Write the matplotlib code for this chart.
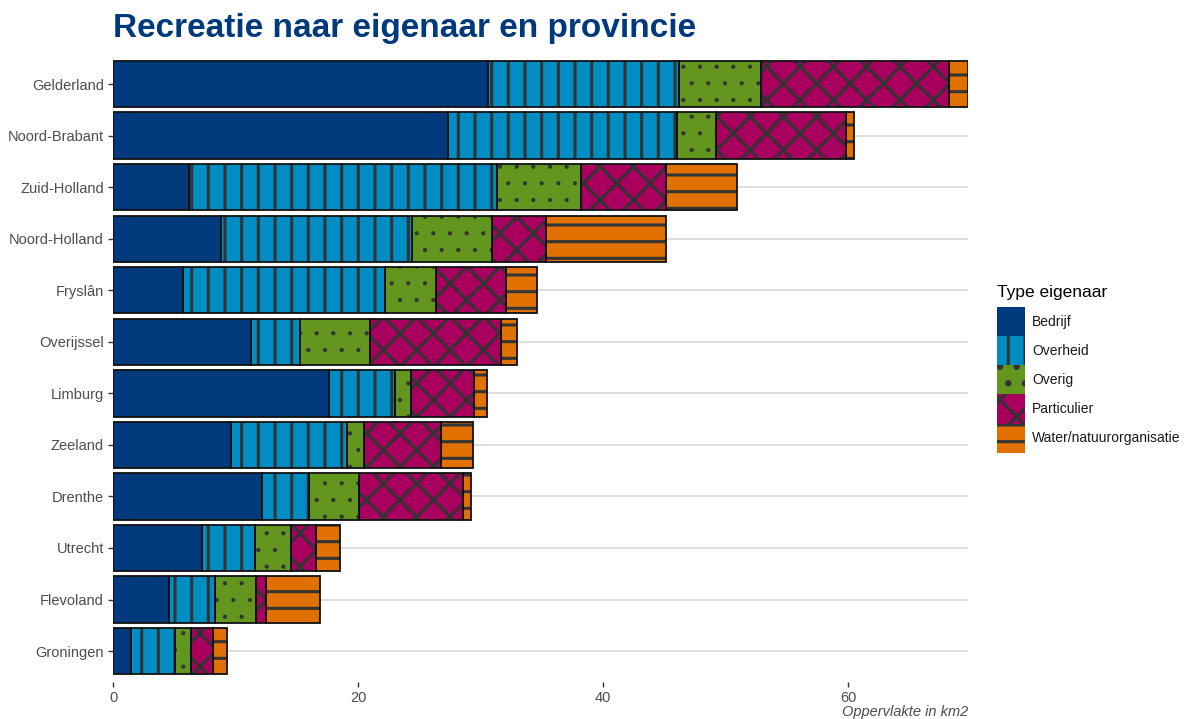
import matplotlib
matplotlib.use("Agg")
import matplotlib.pyplot as plt
import numpy as np
from matplotlib.patches import Patch

plt.rcParams.update(
    {
        "font.family": ["Liberation Sans", "DejaVu Sans"],
        "hatch.linewidth": 2.2,
        "figure.dpi": 100,
    }
)

provinces = [
    "Gelderland", "Noord-Brabant", "Zuid-Holland", "Noord-Holland", "Fryslân",
    "Overijssel", "Limburg", "Zeeland", "Drenthe", "Utrecht", "Flevoland", "Groningen",
]
owner_types = ["Bedrijf", "Overheid", "Overig", "Particulier", "Water/natuurorganisatie"]

# area per owner type (km2)
bedrijf = [30.6, 27.3, 6.2, 8.8, 5.7, 11.3, 17.6, 9.6, 12.2, 7.3, 4.6, 1.5]
overheid = [15.6, 18.7, 25.1, 15.6, 16.5, 4.0, 5.4, 9.5, 3.8, 4.3, 3.7, 3.6]
overig = [6.7, 3.2, 6.9, 6.5, 4.2, 5.7, 1.3, 1.4, 4.1, 2.9, 3.4, 1.3]
particulier = [15.3, 10.6, 6.9, 4.4, 5.7, 10.7, 5.2, 6.3, 8.5, 2.1, 0.8, 1.8]
water = [1.6, 0.7, 5.8, 9.8, 2.5, 1.3, 1.0, 2.6, 0.6, 1.9, 4.4, 1.1]

COLORS = ["#003A7C", "#008DC3", "#62961E", "#A9005F", "#E07000"]
HATCHES = ["", "|", ".", "x", "-"]
HATCH_LW = [2.2, 2.2, 0.6, 2.2, 2.2]
HATCH_COLOR = "#333333"
TEXT = "#4D4D4D"

series = [bedrijf, overheid, overig, particulier, water]
y = np.arange(len(provinces))


def _hatch_lw(artist, lw):
    if hasattr(artist, "set_hatch_linewidth"):
        artist.set_hatch_linewidth(lw)


fig = plt.figure(figsize=(11.92, 7.19))
ax = fig.add_axes([0.0948, 0.0515, 0.7175, 0.8745])

left = np.zeros(len(provinces))
for vals, color, hatch, hlw in zip(series, COLORS, HATCHES, HATCH_LW):
    vals = np.array(vals)
    with plt.rc_context({"hatch.linewidth": hlw}):
        bars = ax.barh(y, vals, height=0.9, left=left, color=color,
                       edgecolor=HATCH_COLOR, linewidth=0, hatch=hatch, zorder=3)
    for b in bars:
        _hatch_lw(b, hlw)
    ax.barh(y, vals, height=0.9, left=left, facecolor="none", edgecolor="#111111",
            linewidth=1.3, zorder=4)
    left = left + vals

total_max = left.max()
ax.set_xlim(0, total_max)
ax.set_ylim(len(provinces) - 0.4, -0.6)
ax.set_yticks(y)
ax.set_yticklabels(provinces)
ax.set_xticks([0, 20, 40, 60])
for s in ax.spines.values():
    s.set_visible(False)
ax.grid(axis="y", color="#DEDEDE", linewidth=1.4, zorder=0)
ax.grid(axis="x", visible=False)
ax.tick_params(axis="both", colors="#333333", labelcolor=TEXT, labelsize=10.5,
               length=3.5, width=1.0, pad=3)
ax.set_xlabel("Oppervlakte in km2", style="italic", color=TEXT, fontsize=10.5,
              loc="right", labelpad=0)

fig.text(0.0948, 0.948, "Recreatie naar eigenaar en provincie", fontsize=24,
         fontweight="bold", color="#003A7C", ha="left", va="baseline")

handles = []
for c, h, hlw in zip(COLORS, HATCHES, HATCH_LW):
    with plt.rc_context({"hatch.linewidth": hlw}):
        p = Patch(facecolor=c, edgecolor=HATCH_COLOR, linewidth=0, hatch=h)
    _hatch_lw(p, hlw)
    handles.append(p)

leg = fig.legend(
    handles, owner_types, title="Type eigenaar", loc="center left",
    bbox_to_anchor=(0.8305, 0.487), frameon=False, fontsize=10,
    title_fontsize=12.5, handlelength=2.0, handleheight=2.85,
    labelspacing=0.0, handletextpad=0.55, borderpad=0,
)
leg._legend_box.align = "left"
leg._legend_box.sep = 5
for t in leg.get_texts():
    t.set_color("#1A1A1A")

fig.savefig("out.png", dpi=100, facecolor="white")
